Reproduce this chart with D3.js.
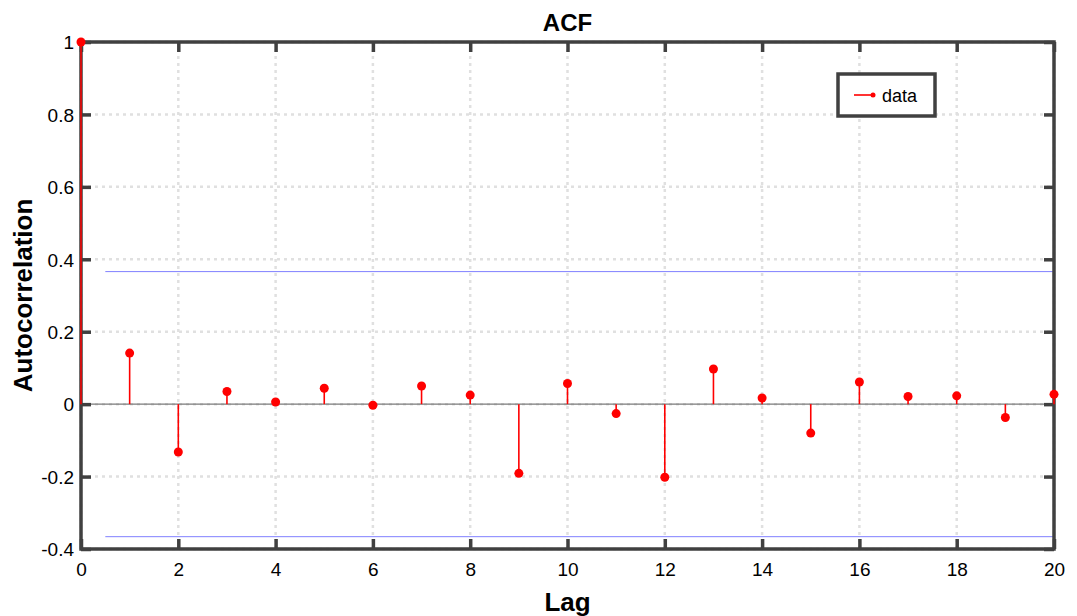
<!DOCTYPE html>
<html>
<head>
<meta charset="utf-8">
<script src="https://cdn.jsdelivr.net/npm/d3@7"></script>
<style>
  body { margin: 0; background: #fff; }
  text { font-family: "Liberation Sans", Arial, sans-serif; }
</style>
</head>
<body>
<div id="chart"></div>
<script>
const width = 1077;
const height = 616;
const margin = { top: 42, right: 23, bottom: 67, left: 81 };

// Sample autocorrelation per lag
const lags = [0, 1, 2, 3, 4, 5, 6, 7, 8, 9, 10, 11, 12, 13, 14, 15, 16, 17, 18, 19, 20];
const acfValues = [
  1, 0.141, -0.132, 0.035, 0.006, 0.044, -0.003, 0.05, 0.025, -0.191, 0.057,
  -0.026, -0.202, 0.097, 0.017, -0.08, 0.061, 0.021, 0.023, -0.037, 0.027,
];
// Confidence bounds
const bounds = [0.366, -0.366];
const boundRange = [0.5, 20];

const xTicks = [0, 2, 4, 6, 8, 10, 12, 14, 16, 18, 20];
const yTicks = [-0.4, -0.2, 0, 0.2, 0.4, 0.6, 0.8, 1];

const plotW = width - margin.left - margin.right;
const plotH = height - margin.top - margin.bottom;

const svg = d3
  .select("#chart")
  .append("svg")
  .attr("width", width)
  .attr("height", height);

const g = svg.append("g").attr("transform", `translate(${margin.left},${margin.top})`);

const x = d3.scaleLinear().domain([0, 20]).range([0, plotW]);
const y = d3.scaleLinear().domain([-0.4, 1]).range([plotH, 0]);

// Grid
g.append("g")
  .selectAll("line")
  .data(xTicks)
  .join("line")
  .attr("x1", (d) => x(d))
  .attr("x2", (d) => x(d))
  .attr("y1", 0)
  .attr("y2", plotH)
  .attr("stroke", "#e0e0e0")
  .attr("stroke-width", 2.5)
  .attr("stroke-dasharray", "3,4");

g.append("g")
  .selectAll("line")
  .data(yTicks)
  .join("line")
  .attr("x1", 0)
  .attr("x2", plotW)
  .attr("y1", (d) => y(d))
  .attr("y2", (d) => y(d))
  .attr("stroke", "#e0e0e0")
  .attr("stroke-width", 2.5)
  .attr("stroke-dasharray", "3,4");

// Zero line
g.append("line")
  .attr("x1", 0)
  .attr("x2", plotW)
  .attr("y1", y(0))
  .attr("y2", y(0))
  .attr("stroke", "#7a7a7a")
  .attr("stroke-width", 1.2);

// Confidence bounds
g.append("g")
  .selectAll("line")
  .data(bounds)
  .join("line")
  .attr("x1", x(boundRange[0]))
  .attr("x2", x(boundRange[1]))
  .attr("y1", (d) => y(d))
  .attr("y2", (d) => y(d))
  .attr("stroke", "#8080ff")
  .attr("stroke-width", 1);

// Axes (ticks inside, frame)
const frameColor = "#404040";
const fmt = (d) => String(d).replace("\u2212", "-");
const axisBottom = g
  .append("g")
  .attr("transform", `translate(0,${plotH})`)
  .call(d3.axisBottom(x).tickValues(xTicks).tickSize(-10).tickPadding(14).tickFormat(fmt));
const axisTop = g.append("g").call(d3.axisTop(x).tickValues(xTicks).tickSize(-10).tickFormat(""));
const axisLeft = g
  .append("g")
  .call(d3.axisLeft(y).tickValues(yTicks).tickSize(-10).tickPadding(7).tickFormat(fmt));
const axisRight = g
  .append("g")
  .attr("transform", `translate(${plotW},0)`)
  .call(d3.axisRight(y).tickValues(yTicks).tickSize(-10).tickFormat(""));

[axisBottom, axisTop, axisLeft, axisRight].forEach((a) => {
  a.select(".domain").remove();
  a.selectAll(".tick line").attr("stroke", frameColor).attr("stroke-width", 3.5);
  a.selectAll(".tick text").attr("fill", "#000").style("font-size", "19px");
});
axisLeft.selectAll(".tick text").attr("dy", "0.36em");

g.append("rect")
  .attr("x", 0)
  .attr("y", 0)
  .attr("width", plotW)
  .attr("height", plotH)
  .attr("fill", "none")
  .attr("stroke", frameColor)
  .attr("stroke-width", 3.5);

// Stems
const acf = lags.map((d, i) => ({ lag: d, v: acfValues[i] }));
g.append("g")
  .selectAll("line")
  .data(acf)
  .join("line")
  .attr("x1", (d) => x(d.lag))
  .attr("x2", (d) => x(d.lag))
  .attr("y1", y(0))
  .attr("y2", (d) => y(d.v))
  .attr("stroke", (d) => (d.lag === 0 ? "#d01010" : "#ff0000"))
  .attr("stroke-width", (d) => (d.lag === 0 ? 2 : 1.6));

g.append("g")
  .selectAll("circle")
  .data(acf)
  .join("circle")
  .attr("cx", (d) => x(d.lag))
  .attr("cy", (d) => y(d.v))
  .attr("r", 4.5)
  .attr("fill", "#ff0000");

// Title and labels
svg.append("text")
  .attr("x", margin.left + plotW / 2)
  .attr("y", 31)
  .attr("text-anchor", "middle")
  .style("font-size", "24px")
  .style("font-weight", "bold")
  .text("ACF");

svg.append("text")
  .attr("x", margin.left + plotW / 2)
  .attr("y", 611)
  .attr("text-anchor", "middle")
  .style("font-size", "26px")
  .style("font-weight", "bold")
  .text("Lag");

svg.append("text")
  .attr("transform", `translate(32,${margin.top + plotH / 2}) rotate(-90)`)
  .attr("text-anchor", "middle")
  .style("font-size", "26px")
  .style("font-weight", "bold")
  .text("Autocorrelation");

// Legend
const legend = svg.append("g").attr("transform", "translate(838,74)");
legend.append("rect")
  .attr("width", 97)
  .attr("height", 42)
  .attr("fill", "#fff")
  .attr("stroke", frameColor)
  .attr("stroke-width", 3.5);
legend.append("line")
  .attr("x1", 16)
  .attr("x2", 35)
  .attr("y1", 21)
  .attr("y2", 21)
  .attr("stroke", "#ff0000")
  .attr("stroke-width", 1.6);
legend.append("circle").attr("cx", 35).attr("cy", 21).attr("r", 2.5).attr("fill", "#ff0000");
legend.append("text")
  .attr("x", 44)
  .attr("y", 27.5)
  .style("font-size", "18px")
  .text("data");
</script>
</body>
</html>
